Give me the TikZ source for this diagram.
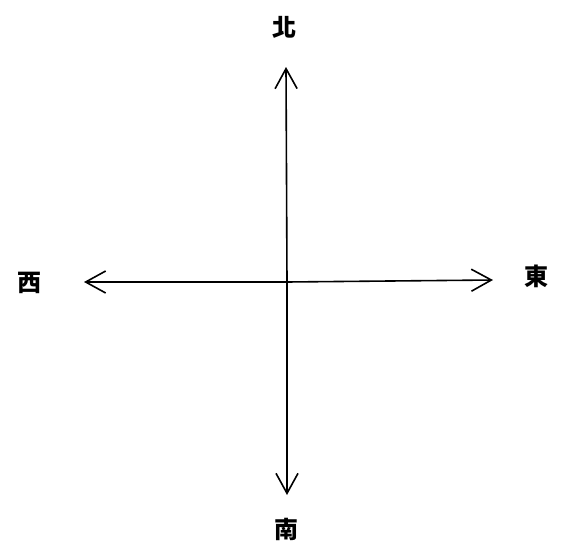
\documentclass[tikz,border=0pt]{standalone}
\usepackage{fontspec}
\newfontfamily\cjk{Noto Sans CJK TC}
\usetikzlibrary{arrows.meta}
\begin{document}
\begin{tikzpicture}[x=1pt,y=-1pt,
  axis/.style={line width=1.6pt, -{Straight Barb[length=20pt,width=22pt,line width=1.6pt]}},
  lbl/.style={font=\cjk\fontsize{24}{24}\selectfont\bfseries, inner sep=0pt}]
\useasboundingbox (0,0) rectangle (568,554);
\coordinate (o) at (287,282);
\coordinate (n) at (286,67);
\coordinate (s) at (287,495);
\coordinate (w) at (84,282);
\coordinate (e) at (493,280);
\draw[axis] (o) -- (n);
\draw[axis] (o) -- (s);
\draw[axis] (o) -- (w);
\draw[axis] (o) -- (e);
\node[lbl] (ln) at (284,27) {北};
\node[lbl] (ls) at (286,529) {南};
\node[lbl] (lw) at (29,283) {西};
\node[lbl] (le) at (536,276) {東};
\end{tikzpicture}
\end{document}
